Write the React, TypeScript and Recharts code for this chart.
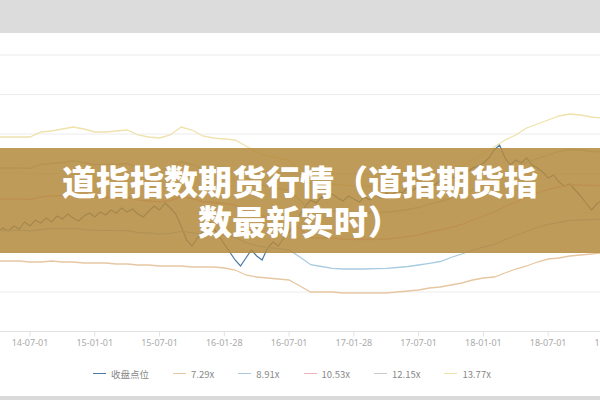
import React from 'react';
import { LineChart, Line, XAxis, YAxis, CartesianGrid, Legend } from 'recharts';

// x coordinate: months relative to 2014-07-01
const startMonth = -3;
const closeStep = 0.5;

// close level, half-month samples from t=-3 to t=53
const closeValues = [
  1795, 1835, 1805, 1855, 1825, 1895,
  1855, 1915, 1885, 1935, 1895, 1955, 1925, 1975, 1935, 1905, 1955, 1985, 1945, 1995,
  1965, 2015, 1985, 2035, 1995, 2025, 1975, 1945, 2005, 2055, 2015, 2085, 2035, 1975,
  1855, 1715, 1655, 1735, 1795, 1935, 1835, 1755, 1675, 1595, 1515, 1455, 1535, 1615,
  1555, 1515, 1635, 1695, 1655, 1735, 1795, 1875, 1965, 2055, 2115, 2085, 2145, 2125,
  2175, 2135, 2105, 2155, 2125, 2095, 2145, 2115, 2165, 2135, 2185, 2155, 2205, 2185,
  2235, 2215, 2255, 2235, 2285, 2265, 2315, 2295, 2345, 2335, 2375, 2395, 2435, 2455,
  2485, 2535, 2615, 2665, 2535, 2465, 2515, 2485, 2535, 2465, 2435, 2395, 2335, 2365,
  2295, 2255, 2275, 2215, 2155, 2085, 2015, 2075, 2115,
];

// PE bands, monthly samples from t=-3 to t=53
const band729 = [
  1505, 1505, 1505, 1495, 1495, 1505, 1495, 1495, 1485, 1485, 1485, 1475, 1475, 1465, 1465,
  1455, 1455, 1455, 1445, 1445, 1445, 1435, 1415, 1365, 1345, 1335, 1325, 1315, 1255, 1195,
  1195, 1195, 1185, 1185, 1185, 1185, 1185, 1195, 1205, 1215, 1235, 1245, 1265, 1285, 1315,
  1335, 1345, 1385, 1425, 1455, 1495, 1525, 1535, 1555, 1565, 1575, 1585,
];
const band891 = [
  1810, 1810, 1815, 1805, 1820, 1830, 1828, 1832, 1820, 1812, 1812, 1808, 1810, 1790, 1785,
  1775, 1782, 1802, 1788, 1772, 1768, 1758, 1740, 1688, 1658, 1640, 1628, 1615, 1545, 1468,
  1450, 1432, 1425, 1425, 1425, 1428, 1432, 1440, 1450, 1465, 1482, 1500, 1540, 1575, 1615,
  1645, 1670, 1718, 1760, 1800, 1840, 1872, 1890, 1910, 1915, 1918, 1922,
];
const band1053 = [
  2125, 2125, 2125, 2120, 2145, 2155, 2160, 2170, 2155, 2140, 2140, 2140, 2145, 2115, 2105,
  2095, 2110, 2150, 2130, 2100, 2090, 2080, 2065, 2010, 1970, 1945, 1930, 1915, 1825, 1735,
  1735, 1735, 1725, 1720, 1720, 1720, 1725, 1735, 1750, 1765, 1795, 1815, 1840, 1870, 1915,
  1955, 1995, 2050, 2095, 2145, 2185, 2220, 2245, 2265, 2265, 2260, 2260,
];
const band1215 = [
  2435, 2435, 2435, 2430, 2470, 2480, 2490, 2505, 2490, 2470, 2470, 2470, 2480, 2440, 2425,
  2415, 2440, 2500, 2470, 2430, 2415, 2405, 2390, 2335, 2285, 2250, 2230, 2215, 2110, 2005,
  2005, 2005, 1995, 1990, 1990, 1990, 1995, 2005, 2020, 2040, 2075, 2100, 2130, 2165, 2215,
  2265, 2320, 2380, 2430, 2490, 2530, 2565, 2600, 2620, 2615, 2600, 2595,
];
const band1377 = [
  2745, 2745, 2745, 2745, 2795, 2805, 2825, 2845, 2825, 2795, 2795, 2805, 2815, 2765, 2745,
  2735, 2765, 2845, 2815, 2755, 2735, 2725, 2715, 2655, 2595, 2555, 2535, 2515, 2395, 2275,
  2275, 2275, 2265, 2255, 2255, 2255, 2265, 2275, 2295, 2315, 2355, 2385, 2415, 2455, 2515,
  2575, 2645, 2715, 2765, 2835, 2875, 2915, 2955, 2975, 2965, 2945, 2935,
];

const tickMonths = [0, 6, 12, 18, 24, 30, 36, 42, 48, 54];
const tickLabels = [
  '14-07-01', '15-01-01', '15-07-01', '16-01-28', '16-07-01',
  '17-01-28', '17-07-01', '18-01-01', '18-07-01', '19-01-02',
];
const yTicks = [800, 1195, 1590, 1985, 2380, 2775, 3170, 3565, 3960];

const seriesKeys = ['close', 'b729', 'b891', 'b1053', 'b1215', 'b1377'];
const seriesNames = ['收盘点位', '7.29x', '8.91x', '10.53x', '12.15x', '13.77x'];
const seriesColors = ['#4a7aa6', '#e6c7a2', '#a9cbe2', '#f0b3bb', '#c9c9c9', '#efe2ac'];

const bands = [band729, band891, band1053, band1215, band1377];

const data = closeValues.map((c, i) => {
  const row: Record<string, number> = { t: startMonth + i * closeStep, close: c };
  if (i % 2 === 0) {
    const m = i / 2;
    bands.forEach((b, k) => {
      row[seriesKeys[k + 1]] = b[m];
    });
  }
  return row;
});

const fmtTick = (v: number) => {
  const idx = tickMonths.indexOf(v);
  return idx >= 0 ? tickLabels[idx] : '';
};

const renderLegend = (props: any) => {
  const payload = [...(props.payload || [])].sort(
    (a: any, b: any) => seriesNames.indexOf(a.value) - seriesNames.indexOf(b.value)
  );
  return (
    <div
      style={{
        display: 'flex',
        justifyContent: 'center',
        alignItems: 'center',
        gap: 24,
        height: 24,
        paddingRight: 16,
        fontSize: 9.5,
        color: '#888',
        fontFamily: '"Noto Sans CJK SC", "Noto Sans", sans-serif',
      }}
    >
      {payload.map((e: any) => (
        <div key={e.value} style={{ display: 'flex', alignItems: 'center' }}>
          <span
            style={{
              display: 'inline-block',
              width: 13,
              height: 0,
              borderTop: `1.5px solid ${e.color}`,
              marginRight: 5,
            }}
          />
          <span>{e.value}</span>
        </div>
      ))}
    </div>
  );
};

export default function App() {
  return (
    <div
      style={{
        position: 'absolute',
        left: 0,
        top: 0,
        width: 600,
        height: 400,
        overflow: 'hidden',
        background: '#fff',
      }}
    >
      <LineChart
        width={600}
        height={400}
        data={data}
        margin={{ top: 15.5, right: 0, bottom: 14.5, left: 0 }}
      >
        <CartesianGrid horizontal vertical={false} stroke="#ececec" />
        <XAxis
          dataKey="t"
          type="number"
          domain={[-2.78, 52.8]}
          allowDataOverflow
          ticks={tickMonths}
          interval={0}
          tickFormatter={fmtTick}
          height={30}
          tickSize={5}
          tickMargin={3}
          stroke="#e2e2e2"
          tick={{ fill: '#aaa', fontSize: 9, fontFamily: '"Noto Sans", sans-serif' }}
        />
        <YAxis hide domain={[800, 3960]} ticks={yTicks} allowDataOverflow />
        <Legend
          verticalAlign="bottom"
          content={renderLegend}
          wrapperStyle={{ left: 0, width: 600, height: 24 }}
        />
        {seriesKeys.map((k, i) => (
          <Line
            key={k}
            dataKey={k}
            name={seriesNames[i]}
            stroke={seriesColors[i]}
            strokeWidth={i === 0 ? 1.2 : 1.3}
            dot={false}
            activeDot={false}
            connectNulls
            isAnimationActive={false}
          />
        ))}
      </LineChart>
      <div
        style={{
          position: 'absolute',
          left: 0,
          top: 0,
          width: 600,
          height: 33,
          background: '#dcdcdc',
        }}
      />
      <div
        style={{
          position: 'absolute',
          left: 0,
          top: 396,
          width: 600,
          height: 4,
          background: '#d9d9d9',
        }}
      />
      <div
        style={{
          position: 'absolute',
          left: 0,
          top: 148,
          width: 600,
          height: 105,
          background: 'rgba(180, 138, 60, 0.85)',
          display: 'flex',
          flexDirection: 'column',
          justifyContent: 'center',
          alignItems: 'center',
          color: '#fff',
          fontFamily: '"Noto Sans CJK SC", sans-serif',
          fontWeight: 900,
          fontSize: 34,
          lineHeight: '40px',
          textAlign: 'center',
        }}
      >
        <div>道指指数期货行情（道指期货指</div>
        <div>数最新实时）</div>
      </div>
    </div>
  );
}
